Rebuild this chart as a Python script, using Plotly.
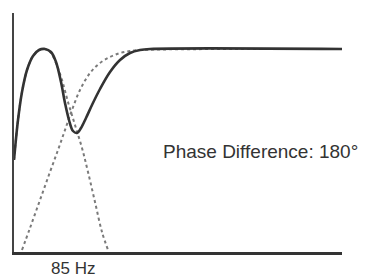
import plotly.graph_objects as go

# x: frequency position (arbitrary units), y: level (arbitrary units)
sum_x = [0, 4, 8, 13, 19, 25, 31, 37, 42, 47, 51, 55, 59, 63, 67, 72, 78, 86, 96, 106, 116, 126, 136, 328]
sum_y = [92, 132, 160, 182, 196, 202, 203, 200, 190, 170, 149, 132, 121, 119, 124, 134, 147, 163, 180, 192, 199, 202, 203, 203]

low_x = [0, 4, 8, 13, 19, 25, 31, 37, 42, 48, 54, 61, 68, 74, 81, 88, 94]
low_y = [92, 132, 160, 182, 196, 202, 203, 199, 189, 172, 150, 127, 104, 80, 50, 20, 2]

high_x = [8, 16, 26, 36, 44, 51, 58, 66, 76, 86, 96, 106, 116, 126, 328]
high_y = [2, 24, 52, 80, 102, 122, 142, 162, 179, 189, 195, 199, 201, 202, 203]

label_freq = "85 Hz"
label_phase = "Phase Difference: 180°"

fig = go.Figure()
fig.add_trace(go.Scatter(x=low_x, y=low_y, mode="lines",
                         line=dict(color="#7a7a7a", width=2, dash="dot", shape="spline")))
fig.add_trace(go.Scatter(x=high_x, y=high_y, mode="lines",
                         line=dict(color="#7a7a7a", width=2, dash="dot", shape="spline")))
fig.add_trace(go.Scatter(x=sum_x, y=sum_y, mode="lines",
                         line=dict(color="#333333", width=2.6, shape="spline")))

fig.add_annotation(x=59, y=-0.067, xref="x", yref="paper", text=label_freq,
                   showarrow=False, xanchor="center", yanchor="middle",
                   font=dict(family="Liberation Sans, Arial", size=17, color="#333333"))
fig.add_annotation(x=147, y=101, xref="x", yref="y", text=label_phase,
                   showarrow=False, xanchor="left", yanchor="middle",
                   font=dict(family="Liberation Sans, Arial", size=19, color="#333333"))

fig.update_layout(
    width=365, height=278,
    margin=dict(l=14, r=23, t=13, b=26),
    paper_bgcolor="white", plot_bgcolor="white",
    showlegend=False,
    xaxis=dict(range=[0, 328], showline=True, linecolor="#333333", linewidth=3,
               showgrid=False, zeroline=False, showticklabels=False, ticks=""),
    yaxis=dict(range=[0, 239], showline=True, linecolor="#444444", linewidth=2,
               showgrid=False, zeroline=False, showticklabels=False, ticks=""),
)

fig.write_html("out.html")
